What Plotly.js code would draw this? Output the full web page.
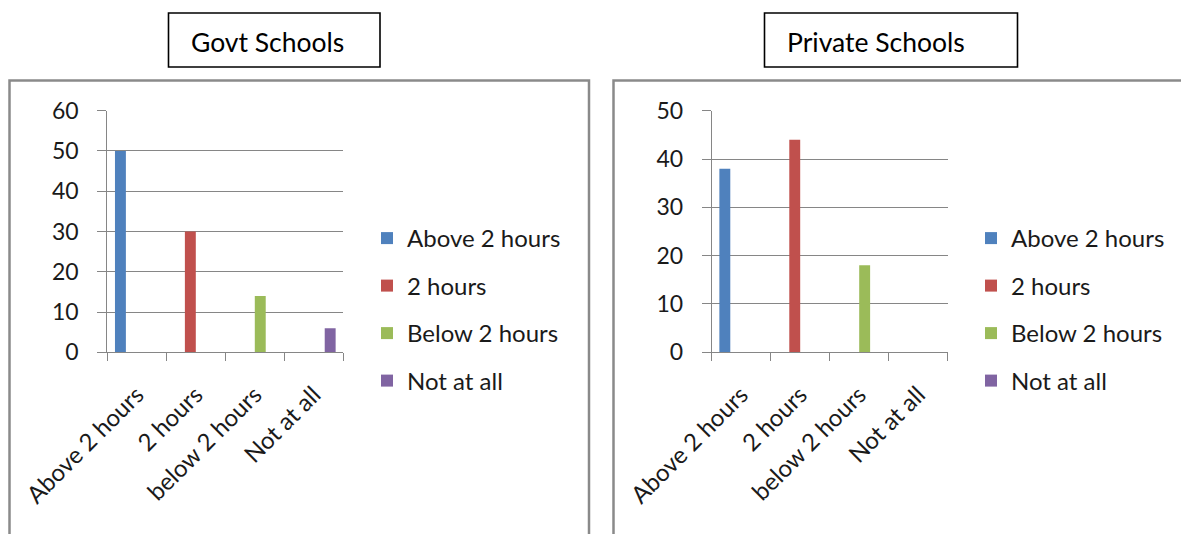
<!DOCTYPE html>
<html>
<head>
<meta charset="utf-8">
<script src="https://cdn.plot.ly/plotly-3.0.1.min.js"></script>
<style>
  html, body { margin: 0; padding: 0; background: #fff; }
  #chart { width: 1181px; height: 534px; }
</style>
</head>
<body>
<div id="chart"></div>
<script>
// ---- data ----
const categories = ["Above 2 hours", "2 hours", "below 2 hours", "Not at all"];
const seriesNames = ["Above 2 hours", "2 hours", "Below 2 hours", "Not at all"];
const govtValues = [50, 30, 14, 6];
const privateValues = [38, 44, 18, 0];
const panelTitles = ["Govt Schools", "Private Schools"];
const govtYTicks = [0, 10, 20, 30, 40, 50, 60];
const privateYTicks = [0, 10, 20, 30, 40, 50];

// ---- style ----
const colors = ["#4F81BD", "#C0504D", "#9BBB59", "#8064A2"];
const W = 1181, H = 534;
const fx = px => px / W;
const fy = py => 1 - py / H;
const FONT = "Lato, 'DejaVu Sans', sans-serif";
const gridColor = "#868686";
const textColor = "#1a1a1a";

// each series only has its own category's value (Excel style grouped bars)
function buildTraces(values, xa, ya, legendId, prefix) {
  return seriesNames.map((name, i) => ({
    type: "bar",
    name: name,
    x: categories,
    y: categories.map((c, j) => (j === i ? values[i] : 0)),
    xaxis: xa, yaxis: ya,
    legend: legendId,
    legendgroup: prefix + i,
    marker: { color: colors[i], line: { width: 0 } },
    hoverinfo: "skip"
  }));
}

const traces = [
  ...buildTraces(govtValues, "x", "y", "legend", "g"),
  ...buildTraces(privateValues, "x2", "y2", "legend2", "p")
];

const yDomain = [fy(352.3), fy(110.7)];

function xAxis(domain, anchor) {
  return {
    domain: domain, anchor: anchor,
    type: "category",
    showgrid: false, zeroline: false,
    showline: true, linecolor: gridColor, linewidth: 1,
    ticks: "outside", tickson: "boundaries", ticklen: 8, tickcolor: gridColor, tickwidth: 1,
    tickangle: -45,
    tickfont: { family: FONT, size: 24, color: textColor },
    ticklabelstandoff: 18,
    fixedrange: true
  };
}
function yAxis(domain, anchor, range, tickvals) {
  return {
    domain: domain, anchor: anchor,
    range: range, tickvals: tickvals,
    showgrid: true, gridcolor: gridColor, gridwidth: 1,
    zeroline: false,
    showline: true, linecolor: gridColor, linewidth: 1,
    ticks: "outside", ticklen: 9, tickcolor: gridColor, tickwidth: 1,
    tickfont: { family: FONT, size: 23, color: textColor },
    ticklabelstandoff: 14,
    fixedrange: true
  };
}

function legendCfg(xpx) {
  return {
    x: fx(xpx), xanchor: "left",
    y: fy(216), yanchor: "top",
    font: { family: FONT, size: 24, color: textColor },
    bgcolor: "rgba(0,0,0,0)",
    borderwidth: 0,
    traceorder: "grouped",
    tracegroupgap: 13.3,
    itemclick: false, itemdoubleclick: false
  };
}

const layout = {
  width: W, height: H,
  margin: { l: 0, r: 0, t: 0, b: 0 },
  paper_bgcolor: "#fff", plot_bgcolor: "rgba(0,0,0,0)",
  barmode: "group", bargap: 0.26, bargroupgap: 0,
  showlegend: true,
  xaxis: xAxis([fx(107.3), fx(343.3)], "y"),
  yaxis: yAxis(yDomain, "x", [0, 60], govtYTicks),
  xaxis2: xAxis([fx(711.7), fx(947.7)], "y2"),
  yaxis2: yAxis(yDomain, "x2", [0, 50], privateYTicks),
  legend: legendCfg(367),
  legend2: legendCfg(971),
  shapes: [
    // outer chart area borders
    { type: "rect", xref: "paper", yref: "paper", x0: fx(9.5), x1: fx(589), y0: fy(560), y1: fy(80.5),
      line: { color: "#8a8a8a", width: 2.5 }, fillcolor: "rgba(0,0,0,0)", layer: "below" },
    { type: "rect", xref: "paper", yref: "paper", x0: fx(613.5), x1: fx(1200), y0: fy(560), y1: fy(80.5),
      line: { color: "#8a8a8a", width: 2.5 }, fillcolor: "rgba(0,0,0,0)", layer: "below" },
    // title boxes
    { type: "rect", xref: "paper", yref: "paper", x0: fx(168.5), x1: fx(380), y0: fy(67), y1: fy(13),
      line: { color: "#000", width: 1.6 }, fillcolor: "rgba(0,0,0,0)" },
    { type: "rect", xref: "paper", yref: "paper", x0: fx(764.5), x1: fx(1017.5), y0: fy(67), y1: fy(13),
      line: { color: "#000", width: 1.6 }, fillcolor: "rgba(0,0,0,0)" }
  ],
  annotations: [
    { xref: "paper", yref: "paper", x: fx(189), y: fy(42), xanchor: "left", yanchor: "middle",
      text: panelTitles[0], showarrow: false, font: { family: FONT, size: 26.5, color: "#000" } },
    { xref: "paper", yref: "paper", x: fx(785), y: fy(42), xanchor: "left", yanchor: "middle",
      text: panelTitles[1], showarrow: false, font: { family: FONT, size: 26.5, color: "#000" } }
  ]
};

Plotly.newPlot("chart", traces, layout, { staticPlot: true, displayModeBar: false });
</script>
</body>
</html>
